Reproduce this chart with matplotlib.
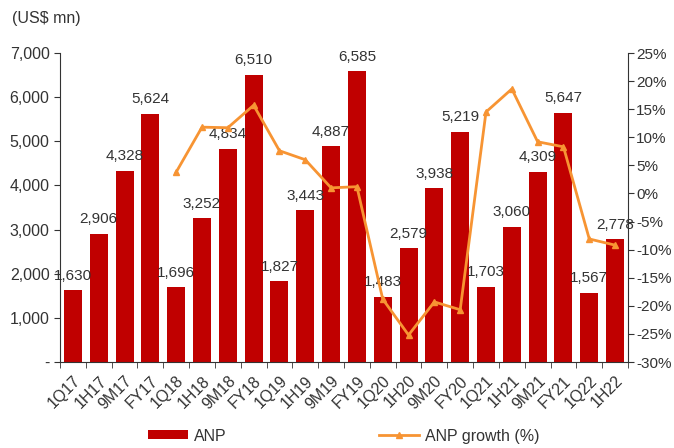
import numpy as np
import matplotlib
matplotlib.use('Agg')
from matplotlib import pyplot as plt

plt.rcParams['font.family'] = ['Liberation Sans', 'DejaVu Sans']

periods = ['1Q17', '1H17', '9M17', 'FY17', '1Q18', '1H18', '9M18', 'FY18',
           '1Q19', '1H19', '9M19', 'FY19', '1Q20', '1H20', '9M20', 'FY20',
           '1Q21', '1H21', '9M21', 'FY21', '1Q22', '1H22']
anp = [1630, 2906, 4328, 5624, 1696, 3252, 4834, 6510,
       1827, 3443, 4887, 6585, 1483, 2579, 3938, 5219,
       1703, 3060, 4309, 5647, 1567, 2778]
# growth starts from 1Q18
growth = [None, None, None, None, 3.8, 11.8, 11.7, 15.7,
          7.6, 6.0, 1.0, 1.2, -18.8, -25.2, -19.3, -20.7,
          14.5, 18.6, 9.2, 8.3, -8.1, -9.2]

bar_color = '#C00000'
line_color = '#F79433'
text_color = '#333333'
fs = 11.5

fig = plt.figure(figsize=(6.74, 4.48), dpi=100)
ax = fig.add_axes([60/674, 1-362/448, 568/674, 309/448])
x = np.arange(len(periods))

ax.bar(x, anp, width=0.7, color=bar_color, label='ANP', zorder=2)
for xi, v in zip(x, anp):
    ax.text(xi, v + 170, f'{v:,}', ha='center', va='bottom', fontsize=11, color=text_color, zorder=4)

ax.set_xlim(-0.5, len(periods) - 0.5)
ax.set_ylim(0, 7000)
ax.set_yticks(range(0, 7001, 1000))
ax.set_yticklabels(['-'] + [f'{v:,}' for v in range(1000, 7001, 1000)])
ax.set_xticks(x)
ax.set_xticklabels(periods, rotation=45, ha='right', rotation_mode='anchor')
ax.set_xticks(np.arange(-0.5, len(periods)), minor=True)
ax.tick_params(axis='x', which='major', length=0, pad=8, labelsize=fs, colors=text_color)
ax.tick_params(axis='x', which='minor', length=4, direction='out', color='#333333')
ax.tick_params(axis='y', length=4, direction='out', labelsize=fs, colors=text_color, color='#333333')
ax.spines['top'].set_visible(False)
ax.spines['right'].set_visible(False)
for s in ['left', 'bottom']:
    ax.spines[s].set_color('#333333')

ax2 = ax.twinx()
gx = [xi for xi, g in zip(x, growth) if g is not None]
gy = [g for g in growth if g is not None]
ax2.plot(gx, gy, color=line_color, linewidth=2, marker='^', markersize=5, label='ANP growth (%)', zorder=3)
ax2.set_ylim(-30, 25)
ax2.set_yticks(range(-30, 26, 5))
ax2.set_yticklabels([f'{v}%' for v in range(-30, 26, 5)])
ax2.tick_params(axis='y', length=4, direction='out', pad=2, labelsize=11, colors=text_color, color='#333333')
ax2.spines['top'].set_visible(False)
ax2.spines['left'].set_visible(False)
ax2.spines['bottom'].set_visible(False)
ax2.spines['right'].set_color('#333333')

fig.text(12/674, 1-18/448, '(US$ mn)', ha='left', va='center', fontsize=fs, color=text_color)

h1, l1 = ax.get_legend_handles_labels()
h2, l2 = ax2.get_legend_handles_labels()
fig.legend(h1 + h2, l1 + l2, loc='center', bbox_to_anchor=(0.51, 1-436/448), ncol=2,
           frameon=False, fontsize=fs, columnspacing=9.5, handlelength=2.5,
           handleheight=0.5, handletextpad=0.4, labelcolor=text_color)

fig.savefig('out.png', dpi=100)
